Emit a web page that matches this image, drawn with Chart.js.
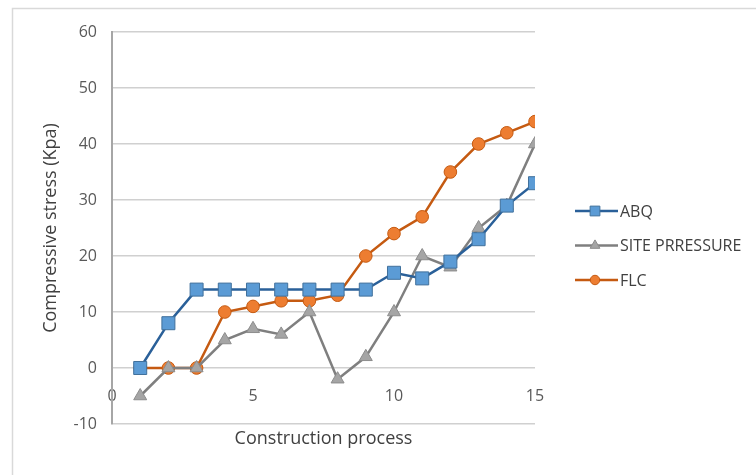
<!DOCTYPE html>
<html>
<head>
<meta charset="utf-8">
<script src="https://cdn.jsdelivr.net/npm/chart.js@4.4.1/dist/chart.umd.min.js"></script>
<style>
  html, body { margin: 0; padding: 0; background: #fff; }
  #wrap { width: 756px; height: 475px; position: relative; }
</style>
</head>
<body>
<div id="wrap"><canvas id="grafico" width="756" height="475"></canvas></div>
<script>
// dados
const etapas = [1, 2, 3, 4, 5, 6, 7, 8, 9, 10, 11, 12, 13, 14, 15];
const abq = [0, 8, 14, 14, 14, 14, 14, 14, 14, 17, 16, 19, 23, 29, 33];
const sitePressure = [-5, 0, 0, 5, 7, 6, 10, -2, 2, 10, 20, 18, 25, 29, 40];
const flc = [0, 0, 0, 10, 11, 12, 12, 13, 20, 24, 27, 35, 40, 42, 44];
const nomesSeries = ['ABQ', 'SITE PRRESSURE', 'FLC'];
const xTicks = [0, 5, 10, 15];
const yTicks = [-10, 0, 10, 20, 30, 40, 50, 60];

const fonte = "'Open Sans', 'DejaVu Sans', sans-serif";

function pontos(valores) {
  return etapas.map((x, i) => ({ x: x, y: valores[i] }));
}

function drawMarker(ctx, estilo, r, x, y) {
  if (estilo === 'rect') {
    const s = Math.SQRT1_2 * r;
    ctx.rect(x - s, y - s, 2 * s, 2 * s);
  } else if (estilo === 'triangle') {
    ctx.moveTo(x, y - r);
    ctx.lineTo(x + r * 0.866, y + r * 0.5);
    ctx.lineTo(x - r * 0.866, y + r * 0.5);
    ctx.closePath();
  } else {
    ctx.arc(x, y, r, 0, Math.PI * 2);
  }
}

// moldura externa + legenda com linha e marcador (estilo Excel)
const extras = {
  id: 'extras',
  beforeDraw(chart) {
    const ctx = chart.ctx;
    ctx.save();
    ctx.strokeStyle = '#d9d9d9';
    ctx.lineWidth = 1.5;
    ctx.strokeRect(12.5, 8.5, 800, 500);
    ctx.restore();
  },
  afterDraw(chart) {
    const ctx = chart.ctx;
    const x0 = chart.chartArea.right + 40;
    const yBase = 211;
    ctx.save();
    chart.data.datasets.forEach((ds, i) => {
      const y = yBase + i * 34.5;
      ctx.strokeStyle = ds.borderColor;
      ctx.lineWidth = ds.borderWidth;
      ctx.beginPath();
      ctx.moveTo(x0, y);
      ctx.lineTo(x0 + 43, y);
      ctx.stroke();
      ctx.fillStyle = ds.pointBackgroundColor;
      ctx.strokeStyle = ds.pointBorderColor;
      ctx.lineWidth = 1;
      ctx.beginPath();
      drawMarker(ctx, ds.pointStyle, ds.pointRadius * 0.75, x0 + 20, y);
      ctx.fill();
      ctx.stroke();
      ctx.fillStyle = '#404040';
      ctx.font = '16px ' + fonte;
      ctx.textBaseline = 'middle';
      ctx.textAlign = 'left';
      ctx.fillText(ds.label, x0 + 45, y + 1);
    });
    ctx.restore();
  }
};

const ctx = document.getElementById('grafico').getContext('2d');
new Chart(ctx, {
  type: 'line',
  data: {
    datasets: [
      {
        label: nomesSeries[0],
        data: pontos(abq),
        borderColor: '#2a6099',
        borderWidth: 2.5,
        pointStyle: 'rect',
        pointRadius: 9.2,
        pointBackgroundColor: '#5b9bd5',
        pointBorderColor: '#41719c',
        pointBorderWidth: 1,
        tension: 0
      },
      {
        label: nomesSeries[1],
        data: pontos(sitePressure),
        borderColor: '#7f7f7f',
        borderWidth: 2.5,
        pointStyle: 'triangle',
        pointRadius: 7.5,
        pointBackgroundColor: '#a5a5a5',
        pointBorderColor: '#8c8c8c',
        pointBorderWidth: 1,
        tension: 0
      },
      {
        label: nomesSeries[2],
        data: pontos(flc),
        borderColor: '#c55a11',
        borderWidth: 2.5,
        pointStyle: 'circle',
        pointRadius: 6.3,
        pointBackgroundColor: '#ed7d31',
        pointBorderColor: '#c55a11',
        pointBorderWidth: 1,
        tension: 0
      }
    ]
  },
  options: {
    responsive: false,
    animation: false,
    layout: { padding: { left: 14, top: 32, right: 221, bottom: 21 } },
    plugins: {
      legend: { display: false },
      tooltip: { enabled: false }
    },
    scales: {
      x: {
        type: 'linear',
        position: 'bottom',
        min: 0,
        max: 15,
        ticks: { display: false },
        grid: { display: false },
        border: { display: false },
        title: {
          display: true,
          text: 'Construction process',
          color: '#404040',
          font: { family: fonte, size: 18 },
          padding: { top: 4, bottom: 4 }
        },
        afterFit(scale) { scale.height = 30; }
      },
      x2: {
        type: 'linear',
        position: { y: 0 },
        min: 0,
        max: 15,
        afterBuildTicks(scale) { scale.ticks = xTicks.map(v => ({ value: v })); },
        ticks: {
          color: '#595959',
          font: { family: fonte, size: 16 },
          padding: 19
        },
        grid: { display: false, drawTicks: false },
        border: { display: false }
      },
      y: {
        type: 'linear',
        min: -10,
        max: 60,
        afterBuildTicks(scale) { scale.ticks = yTicks.map(v => ({ value: v })); },
        ticks: {
          color: '#595959',
          font: { family: fonte, size: 16 },
          padding: 15
        },
        grid: { color: '#d0d0d0', lineWidth: 1.5, drawTicks: false },
        border: { display: true, color: '#a6a6a6', width: 2 },
        title: {
          display: true,
          text: 'Compressive stress (Kpa)',
          color: '#404040',
          font: { family: fonte, size: 18 },
          padding: { top: 26, bottom: 4 }
        },
        afterFit(scale) { scale.width = 98; }
      }
    }
  },
  plugins: [extras]
});
</script>
</body>
</html>
